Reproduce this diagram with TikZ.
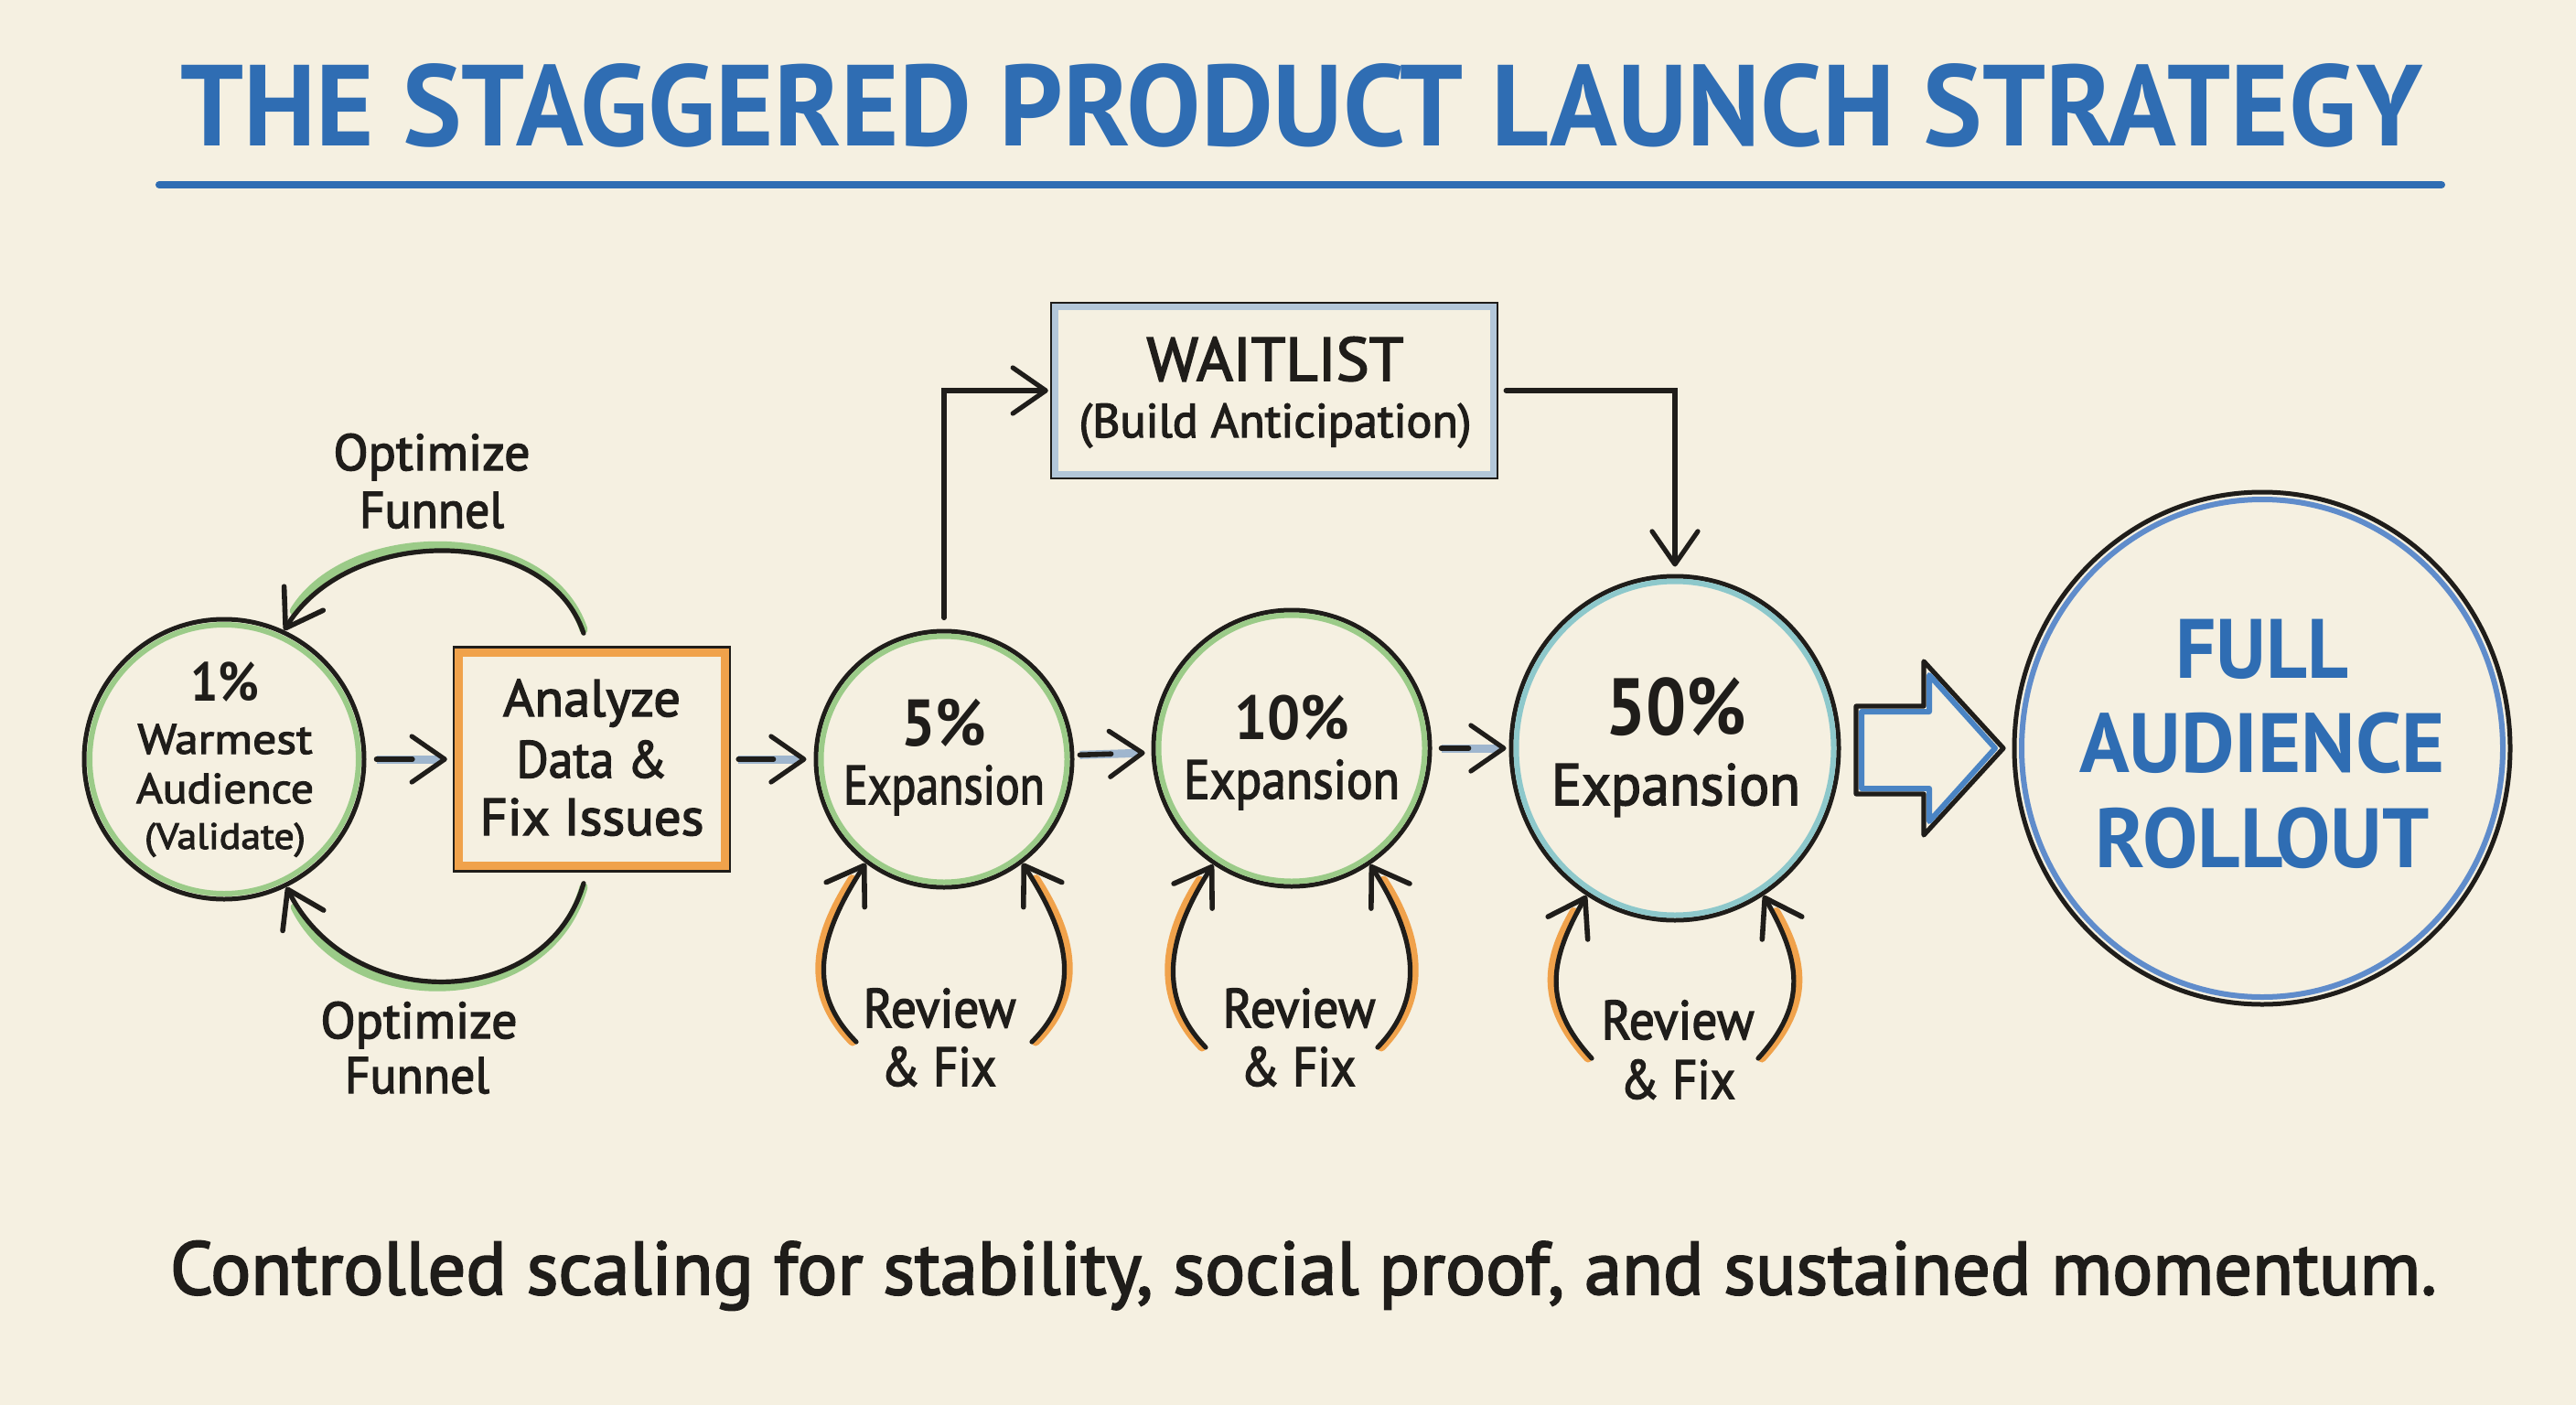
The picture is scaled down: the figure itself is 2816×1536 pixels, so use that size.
\documentclass[tikz,border=0pt]{standalone}
\usepackage{fontspec}
\usepackage{graphicx}
\setmainfont{PT Sans}
\newfontfamily\hand{PT Sans}[FakeBold=2.5]
\usetikzlibrary{arrows.meta,shapes.geometric}
\definecolor{bg}{HTML}{F5F0E1}
\definecolor{titleblue}{HTML}{2F6DB3}
\definecolor{gr}{HTML}{9BCB88}
\definecolor{org}{HTML}{F0A24B}
\definecolor{shaftc}{HTML}{9FB6CE}
\definecolor{wband}{HTML}{B3C7D9}
\definecolor{teal}{HTML}{8DC8CB}
\definecolor{fblue}{HTML}{5F8CCB}
\definecolor{arrblue}{HTML}{4A84C4}
\definecolor{ink}{HTML}{1F1D1A}
\newcommand\fw[2]{\resizebox{#1pt}{\height}{#2}}
\newcommand\fs[1]{\fontsize{#1pt}{#1pt}\selectfont}
\begin{document}
\begin{tikzpicture}[x=0.5pt,y=-0.5pt,
  ring/.style={circle, draw=ink, line width=2.5pt, inner sep=0pt},
  oval/.style={ellipse, draw=ink, line width=2.5pt, inner sep=0pt},
  boxed/.style={rectangle, draw=ink, line width=2.2pt, inner sep=0pt},
  lbl/.style={anchor=base, inner sep=0pt, text=ink},
  chevtip/.style={-{Straight Barb[length=18pt,width=25pt,line width=2.6pt,color=ink,round]}},
  bigchev/.style={-{Straight Barb[length=19pt,width=25pt,line width=2.8pt,color=ink,round]}},
  shaft/.style={shaftc, line width=4.5pt, chevtip},
  shaftk/.style={ink, line width=2.8pt, line cap=round},
  blk/.style={ink, line width=2.6pt, line cap=round},
]
\useasboundingbox (0,0) rectangle (2816,1536);
\fill[bg] (0,0) rectangle (2816,1536);

% title
\node[lbl, text=titleblue] (title) at (1423,160) {\fs{63}\bfseries\fw{1225.5}{THE STAGGERED PRODUCT LAUNCH STRATEGY}};
\draw[titleblue, line width=4pt, line cap=round] (174,202) -- (2669,202);

% nodes
\node[ring, minimum size=153pt] (c1) at (245,830) {};
\draw[gr, line width=3pt] (c1.center) circle[radius=147];
\node[boxed, minimum width=150pt, minimum height=121.5pt] (box) at (647,830) {};
\draw[org, line width=4.5pt] ([shift={(7,7)}]box.north west) rectangle ([shift={(-7,-7)}]box.south east);
\node[ring, minimum size=140pt] (c5) at (1032,830) {};
\draw[gr, line width=3pt] (c5.center) circle[radius=134.5];
\node[ring, minimum size=151pt] (c10) at (1412,818) {};
\draw[gr, line width=3pt] (c10.center) circle[radius=145.5];
\node[oval, minimum width=179pt, minimum height=188pt] (c50) at (1831,818) {};
\draw[teal, line width=3pt] (c50.center) ellipse[x radius=173.5, y radius=182.5];
\node[oval, minimum width=271pt, minimum height=280pt] (full) at (2473,818) {};
\draw[fblue, line width=3pt] (full.center) ellipse[x radius=263, y radius=272];
\node[boxed, minimum width=243pt, minimum height=95pt] (wait) at (1393,427) {};
\draw[wband, line width=3.5pt] ([shift={(6,6)}]wait.north west) rectangle ([shift={(-6,-6)}]wait.south east);

% texts
\node[lbl] (t1a) at (246,766) {\fs{30}\bfseries\fw{37.5}{1\%}};
\node[lbl] (t1b) at (246,824) {\fs{23}\hand\fw{95.5}{Warmest}};
\node[lbl] (t1c) at (246,878) {\fs{23}\hand\fw{97}{Audience}};
\node[lbl] (t1d) at (246,928) {\fs{20}\hand\fw{88}{(Validate)}};
\node[lbl] (ta1) at (647,783) {\fs{28.5}\hand\fw{97}{Analyze}};
\node[lbl] (ta2) at (647,850) {\fs{28.5}\hand\fw{82.5}{Data \&}};
\node[lbl] (ta3) at (647,913) {\fs{28.5}\hand\fw{122.5}{Fix Issues}};
\node[lbl] (ou1) at (472,514) {\fs{28}\hand\fw{107.5}{Optimize}};
\node[lbl] (ou2) at (472,577) {\fs{28}\hand\fw{79}{Funnel}};
\node[lbl] (ol1) at (458,1135) {\fs{28}\hand\fw{107.5}{Optimize}};
\node[lbl] (ol2) at (456,1195) {\fs{28}\hand\fw{79}{Funnel}};
\node[lbl] (t5a) at (1032,815) {\fs{36}\bfseries\fw{46.5}{5\%}};
\node[lbl] (t5b) at (1032,879) {\fs{30}\hand\fw{110}{Expansion}};
\node[lbl] (t10a) at (1412,808) {\fs{34}\bfseries\fw{63}{10\%}};
\node[lbl] (t10b) at (1412,873) {\fs{30}\hand\fw{118}{Expansion}};
\node[lbl] (t50a) at (1832,803) {\fs{44}\bfseries\fw{77}{50\%}};
\node[lbl] (t50b) at (1832,880) {\fs{32}\hand\fw{136}{Expansion}};
\node[lbl] (r5a) at (1027,1123) {\fs{30}\hand\fw{83.5}{Review}};
\node[lbl] (r5b) at (1026,1187) {\fs{30}\hand\fw{63}{\& Fix}};
\node[lbl] (r10a) at (1420,1123) {\fs{30}\hand\fw{83.5}{Review}};
\node[lbl] (r10b) at (1419,1187) {\fs{30}\hand\fw{63}{\& Fix}};
\node[lbl] (r50a) at (1834,1136) {\fs{30}\hand\fw{83.5}{Review}};
\node[lbl] (r50b) at (1834,1201) {\fs{30}\hand\fw{63}{\& Fix}};
\node[lbl] (tw1) at (1394,416) {\fs{33.5}\hand\fw{140.5}{WAITLIST}};
\node[lbl] (tw2) at (1394,478) {\fs{26}\hand\fw{214.5}{(Build Anticipation)}};
\node[lbl, text=titleblue] (tf1) at (2473,741) {\fs{46}\bfseries\fw{94.5}{FULL}};
\node[lbl, text=titleblue] (tf2) at (2473,844) {\fs{46}\bfseries\fw{200}{AUDIENCE}};
\node[lbl, text=titleblue] (tf3) at (2473,948) {\fs{46}\bfseries\fw{182.5}{ROLLOUT}};
\node[lbl] (foot) at (1425,1415) {\fs{41}\hand\fw{1239}{Controlled scaling for stability, social proof, and sustained momentum.}};

% straight connectors
\draw[shaft, shorten <=5.5pt, shorten >=3pt] (c1) -- (box);
\draw[shaftk, shorten <=5.5pt, shorten >=22pt] (c1) -- (box);
\draw[shaft, shorten <=4pt, shorten >=4pt] (box) -- (c5);
\draw[shaftk, shorten <=4pt, shorten >=22pt] (box) -- (c5);
\draw[shaft, shorten <=3pt, shorten >=3.5pt] (c5) -- (c10);
\draw[shaftk, shorten <=3pt, shorten >=22pt] (c5) -- (c10);
\draw[shaft, shorten <=5pt, shorten >=1.5pt] (c10) -- (c50);
\draw[shaftk, shorten <=5pt, shorten >=22pt] (c10) -- (c50);

\draw[blk, chevtip, shorten <=6pt, shorten >=1pt] (c5.north) |- (wait.west);
\draw[blk, chevtip, shorten <=4pt, shorten >=4pt] (wait.east) -| (c50.north);

% optimize loops
\draw[gr, line width=4.5pt, line cap=round, transform canvas={yshift=2pt}, shorten >=10pt]
  ([shift={(-9,-14)}]box.north) .. controls +(-40,-120) and +(70,-115) .. (c1.65);
\draw[blk, bigchev] ([shift={(-9,-14)}]box.north) .. controls +(-40,-120) and +(70,-115) .. (c1.65);
\draw[gr, line width=4.5pt, line cap=round, transform canvas={yshift=-2pt}, shorten >=10pt]
  ([shift={(-9,12)}]box.south) .. controls +(-40,140) and +(70,140) .. (c1.-64);
\draw[blk, bigchev] ([shift={(-9,12)}]box.south) .. controls +(-40,140) and +(70,140) .. (c1.-64);

% review loops
\coordinate (q5L) at (936,1139);
\coordinate (q5R) at (1128,1139);
\coordinate (q10L) at (1318,1145);
\coordinate (q10R) at (1506,1145);
\coordinate (q50L) at (1740,1157);
\coordinate (q50R) at (1922,1157);
\foreach \s/\e/\sx/\cA/\cB in {q5L/c5.-127/-2pt/-60/-45, q10L/c10.-124/-2pt/-58/-45, q50L/c50.-121/-2pt/-55/-40,
  q5R/c5.-53/2pt/60/45, q10R/c10.-56/2pt/58/45, q50R/c50.-59/2pt/55/40}{
  \draw[org, line width=4.5pt, line cap=round, transform canvas={xshift=\sx}, shorten >=10pt]
    (\s) .. controls +(\cA,-60) and +(\cB,70) .. (\e);
  \draw[blk, bigchev] (\s) .. controls +(\cA,-60) and +(\cB,70) .. (\e);
}

% big hollow arrow
\draw[ink, line width=2.6pt, line join=round] (2029,772) -- (2103,772) -- (2103,723) -- (2190,818) -- (2103,913) -- (2103,868) -- (2029,868) -- cycle;
\draw[arrblue, line width=3pt, line join=round] (2035,778) -- (2109,778) -- (2109,738) -- (2181,818) -- (2109,898) -- (2109,862) -- (2035,862) -- cycle;
\end{tikzpicture}
\end{document}
